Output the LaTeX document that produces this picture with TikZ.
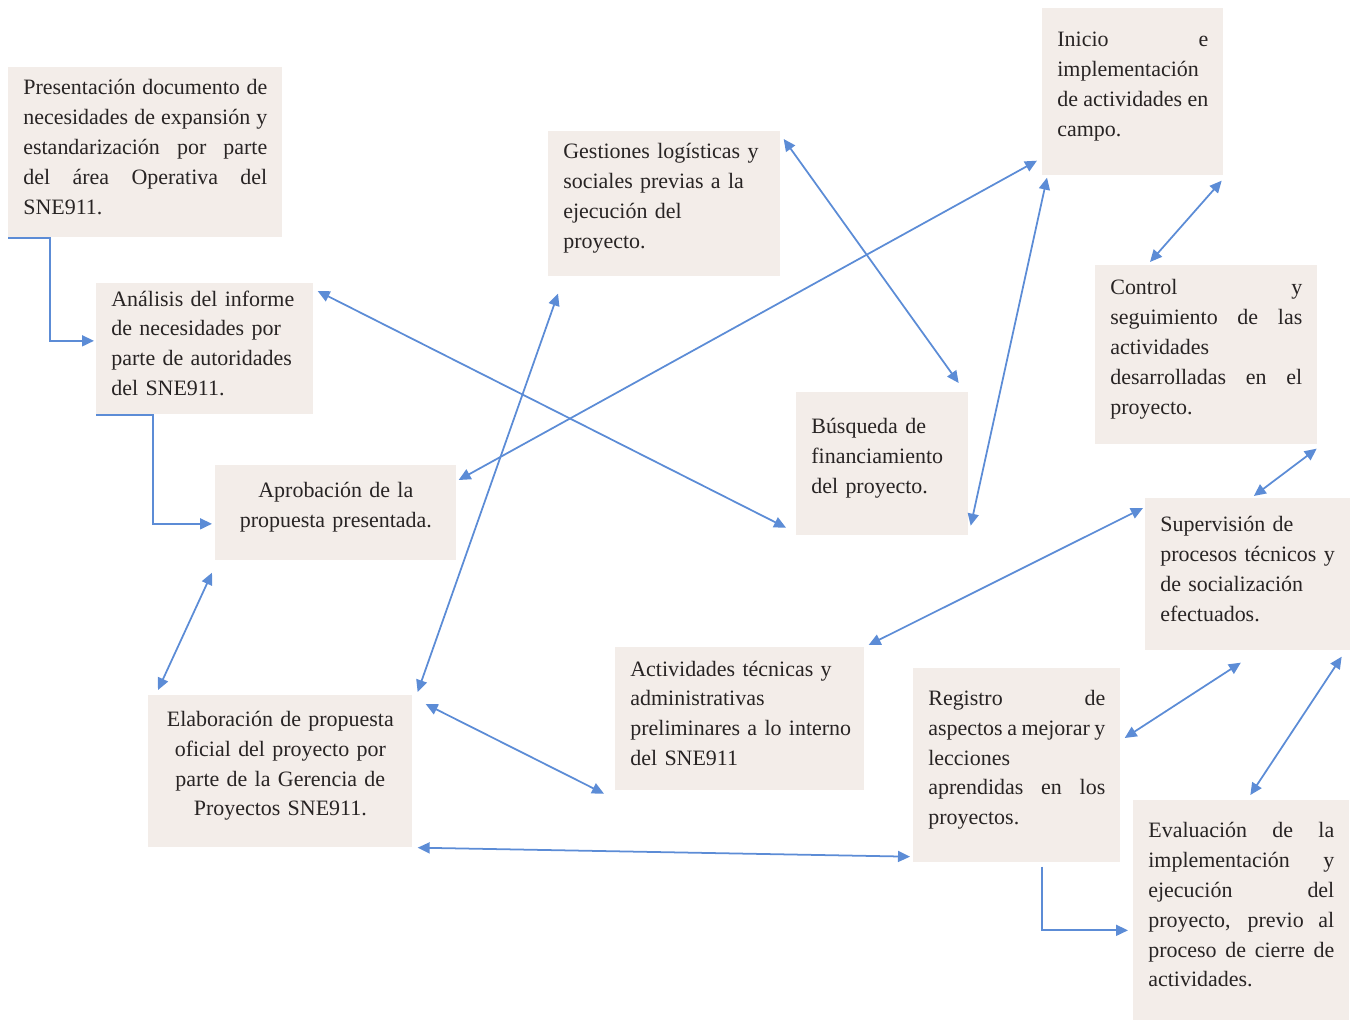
\documentclass[tikz,border=0pt]{standalone}
\usepackage{fontspec}
\setmainfont{Liberation Serif}
\usetikzlibrary{arrows.meta}
\definecolor{boxfill}{RGB}{243,237,233}
\definecolor{linkblue}{RGB}{92,140,214}
\definecolor{inktext}{RGB}{40,36,36}
\hyphenpenalty=10000
\exhyphenpenalty=10000
\tolerance=10000
\newcommand{\boxpad}{\par\kern0.22cm}
\begin{document}
\begin{tikzpicture}[x=0.02cm, y=-0.02cm,
    box/.style={fill=boxfill, anchor=north west, inner xsep=0.3cm, inner ysep=0pt,
        text=inktext, font=\fontsize{12.5}{17}\selectfont, align=justify,
        execute at end node=\boxpad},
    link/.style={draw=linkblue, line width=1pt,
        {Triangle[length=2.4mm,width=2.2mm]}-{Triangle[length=2.4mm,width=2.2mm]}},
    elbow/.style={draw=linkblue, line width=1pt, -{Triangle[length=2.4mm,width=2.2mm]}}]
    % Page frame (pixel units of the reference)
    \useasboundingbox (0,0) rectangle (1351,1021);

    % Left column
    \node[box, text width=4.88cm, minimum height=3.4cm] (pres) at (8,67)
        {Presentación documento de\linebreak necesidades de expansión y\linebreak
         estandarización por parte\linebreak del área Operativa del\linebreak SNE911.};
    \node[box, align=left, text width=3.74cm, minimum height=2.62cm] (anal) at (96,283)
        {Análisis del informe\\ de necesidades por\\ parte de autoridades\\ del SNE911.};
    \node[box, align=center, text width=4.22cm, minimum height=1.9cm] (apro) at (215,465)
        {Aprobación de la\\ propuesta presentada.};
    \node[box, align=center, text width=4.68cm, minimum height=3.04cm] (elab) at (148,695)
        {Elaboración de propuesta\\ oficial del proyecto por\\ parte de la Gerencia de\\ Proyectos SNE911.};

    % Middle column
    \node[box, align=left, text width=4.04cm, minimum height=2.9cm] (gest) at (548,131)
        {Gestiones logísticas y\\ sociales previas a la\\ ejecución del\\ proyecto.};
    \node[box, align=left, text width=2.84cm, minimum height=2.86cm] (busq) at (796,392)
        {Búsqueda de\\ financiamiento\\ del proyecto.};
    \node[box, align=left, text width=4.38cm, minimum height=2.86cm] (acti) at (615,647)
        {Actividades técnicas y\\ administrativas\\ \mbox{preliminares a lo interno}\\ del SNE911};

    % Right column
    \node[box, text width=3.02cm, minimum height=3.34cm] (inic) at (1042,8)
        {Inicio e\linebreak implementación\linebreak de actividades en\linebreak campo.};
    \node[box, text width=3.84cm, minimum height=3.58cm] (ctrl) at (1095,265)
        {Control y\linebreak seguimiento de las\linebreak actividades\linebreak desarrolladas en el\linebreak proyecto.};
    \node[box, align=left, text width=3.5cm, minimum height=3.04cm] (supe) at (1145,498)
        {Supervisión de\\ procesos técnicos y\\ de socialización\\ efectuados.};
    \node[box, text width=3.54cm, minimum height=3.88cm] (regi) at (913,668)
        {Registro de\linebreak aspectos a mejorar y\linebreak lecciones\linebreak aprendidas en los\linebreak proyectos.};
    \node[box, text width=3.72cm, minimum height=4.4cm] (eval) at (1133,800)
        {Evaluación de la\linebreak implementación y\linebreak ejecución del\linebreak proyecto, previo al\linebreak proceso de cierre de\linebreak actividades.};

    % Elbow connectors
    \draw[elbow] (pres.south west) -- ++(42,0) |- ([shift={(-2,-8)}]anal.west);
    \draw[elbow] (anal.south west) -- ++(57,0) |- ([shift={(-3,11)}]apro.west);
    \draw[elbow] ([shift={(25,4)}]regi.south) |- ([shift={(-5,20)}]eval.west);

    % Two-way connectors
    \draw[link] ([shift={(-3,12)}]apro.south west) -- ([shift={(10,-5)}]elab.north west);
    \draw[link] ([shift={(4,8)}]anal.north east) -- ([shift={(-10,-8)}]busq.south west);
    \draw[link] ([shift={(2,15)}]apro.north east) -- ([shift={(-5,-15)}]inic.south west);
    \draw[link] ([shift={(10,17)}]gest.south west) -- ([shift={(5,-3)}]elab.north east);
    \draw[link] ([shift={(3,8)}]gest.north east) -- ([shift={(-10,-9)}]busq.north east);
    \draw[link] ([shift={(2,-10)}]busq.south east) -- ([shift={(5,2)}]inic.south west);
    \draw[link] ([shift={(-2,5)}]inic.south east) -- ([shift={(55,-3)}]ctrl.north west);
    \draw[link] ([shift={(-1,4)}]ctrl.south east) -- ([shift={(6,-2)}]supe.north);
    \draw[link] ([shift={(-2,10)}]supe.north west) -- ([shift={(4,-2)}]acti.north east);
    \draw[link] ([shift={(13,9)}]elab.north east) -- ([shift={(-11,3)}]acti.south west);
    \draw[link] ([shift={(5,0)}]elab.south east) -- ([shift={(-3,-6)}]regi.south west);
    \draw[link] ([shift={(-7,12)}]supe.south) -- ([shift={(4,70)}]regi.north east);
    \draw[link] ([shift={(-9,6)}]supe.south east) -- ([shift={(9,-5)}]eval.north);
\end{tikzpicture}
\end{document}
